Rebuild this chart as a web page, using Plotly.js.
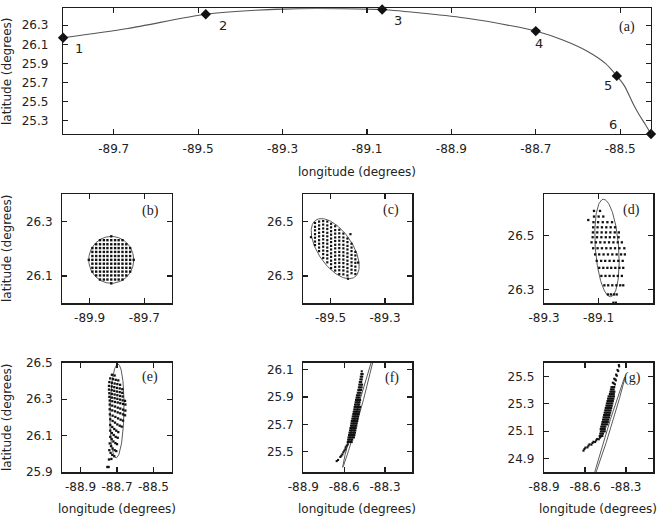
<!DOCTYPE html>
<html>
<head>
<meta charset="utf-8">
<script src="https://cdn.plot.ly/plotly-3.0.1.min.js"></script>
<style>
  html, body { margin: 0; padding: 0; background: #fff; }
  #chart { width: 665px; height: 519px; }
</style>
</head>
<body>
<div id="chart"></div>
<script>
// ---------- (a) drifter track and the six release stations ----------
const trackLon = [-89.820, -89.667, -89.482, -89.364, -89.263, -89.162, -89.064, -88.960, -88.859, -88.758,
                  -88.700, -88.636, -88.576, -88.535, -88.508, -88.490, -88.470, -88.455, -88.440, -88.427];
const trackLat = [26.168, 26.265, 26.414, 26.456, 26.473, 26.473, 26.463, 26.421, 26.369, 26.293,
                  26.238, 26.144, 26.023, 25.901, 25.770, 25.666, 25.485, 25.364, 25.260, 25.163];
const stationLon = [-89.820, -89.482, -89.064, -88.700, -88.508, -88.427];
const stationLat = [26.168, 26.414, 26.463, 26.238, 25.770, 25.163];
const stationLabel = ['1', '2', '3', '4', '5', '6'];

// ---------- confidence ellipses of panels (b)..(g): centre and half-axis vectors ----------
const ellLon   = [-89.821, -89.483, -89.0695, -88.700, -88.489, -88.428];
const ellLat   = [26.159, 26.400, 26.454, 26.236, 25.817, 25.106];
const ellMajor = [[0.0823, 0], [0.0711, -0.1044], [-0.0134, 0.1814], [0.0046, 0.257], [-0.1223, -0.4306], [0.1199, 0.3893]];
const ellMinor = [[0, 0.0858], [0.0521, 0.0351], [0.0426, 0.0032], [0.0385, -0.0007], [0.0120, -0.0034], [0.0098, -0.0030]];

// ---------- (b) initial particle grid (x = particle present) ----------
const bLon = [-89.903, -89.890, -89.876, -89.862, -89.848, -89.835, -89.821, -89.807, -89.794, -89.780, -89.766, -89.752, -89.739];
const bLat = [26.245, 26.231, 26.216, 26.202, 26.188, 26.173, 26.159, 26.145, 26.130, 26.116, 26.102, 26.087, 26.073];
const bMask = [
  '......x......',
  '...xxxxxxx...',
  '..xxxxxxxxx..',
  '.xxxxxxxxxxx.',
  '.xxxxxxxxxxx.',
  '.xxxxxxxxxxx.',
  'xxxxxxxxxxxxx',
  '.xxxxxxxxxxx.',
  '.xxxxxxxxxxx.',
  '.xxxxxxxxxxx.',
  '..xxxxxxxxx..',
  '...xxxxxxx...',
  '......x......'
];

// ---------- (c) particles, by column ----------
const cLon = [-89.557, -89.542, -89.527, -89.512, -89.498, -89.483, -89.468, -89.453, -89.438, -89.423, -89.409];
const cLat = [
  [26.494, 26.480, 26.467, 26.453, 26.440, 26.426, 26.413],
  [26.499, 26.485, 26.472, 26.458, 26.445, 26.431, 26.418, 26.404, 26.391],
  [26.501, 26.488, 26.474, 26.461, 26.447, 26.434, 26.420, 26.407, 26.393, 26.380, 26.366],
  [26.499, 26.485, 26.472, 26.458, 26.445, 26.431, 26.418, 26.404, 26.391, 26.377, 26.364, 26.350],
  [26.491, 26.478, 26.464, 26.451, 26.437, 26.424, 26.410, 26.397, 26.383, 26.370, 26.356, 26.343, 26.329],
  [26.482, 26.468, 26.455, 26.441, 26.428, 26.414, 26.401, 26.387, 26.374, 26.360, 26.347, 26.333, 26.320],
  [26.469, 26.456, 26.442, 26.429, 26.415, 26.402, 26.388, 26.375, 26.361, 26.348, 26.334, 26.321, 26.307],
  [26.455, 26.441, 26.428, 26.414, 26.401, 26.387, 26.374, 26.360, 26.347, 26.333, 26.320, 26.306],
  [26.437, 26.424, 26.410, 26.397, 26.383, 26.370, 26.356, 26.343, 26.329, 26.316, 26.302],
  [26.418, 26.404, 26.391, 26.377, 26.364, 26.350, 26.337, 26.323, 26.310],
  [26.388, 26.375, 26.361, 26.348, 26.334, 26.321, 26.307]
];
const cStrayLon = [-89.572, -89.427, -89.399, -89.436];
const cStrayLat = [26.442, 26.453, 26.349, 26.290];

// ---------- (d) particles, by row ----------
const dLat = [26.592, 26.571, 26.558, 26.550, 26.531, 26.512, 26.494, 26.475, 26.453, 26.430, 26.406, 26.380, 26.350, 26.315, 26.281, 26.250];
const dLon = [
  [-89.117, -89.095],
  [-89.117, -89.100, -89.083],
  [-89.138],
  [-89.119, -89.102, -89.085, -89.068, -89.051],
  [-89.120, -89.104, -89.088, -89.072, -89.056, -89.040],
  [-89.121, -89.105, -89.089, -89.073, -89.057, -89.041, -89.026],
  [-89.122, -89.106, -89.090, -89.074, -89.059, -89.043, -89.027],
  [-89.126, -89.110, -89.094, -89.078, -89.062, -89.046, -89.030, -89.015],
  [-89.120, -89.104, -89.088, -89.072, -89.056, -89.040, -89.024, -89.006],
  [-89.113, -89.098, -89.082, -89.066, -89.050, -89.034, -89.018, -89.004],
  [-89.107, -89.091, -89.076, -89.060, -89.044, -89.028, -89.012],
  [-89.098, -89.083, -89.068, -89.054, -89.039, -89.024, -89.010],
  [-89.090, -89.075, -89.060, -89.045, -89.030, -89.015],
  [-89.079, -89.065, -89.050, -89.035, -89.021, -89.010],
  [-89.066, -89.055, -89.044, -89.034],
  [-89.046, -89.037]
];

// ---------- (e) particles ----------
const eLon = [
  -88.728, -88.713,
  -88.737, -88.722, -88.707, -88.693,
  -88.742, -88.728, -88.713, -88.698, -88.683,
  -88.744, -88.729, -88.715, -88.700, -88.685, -88.671,
  -88.744, -88.729, -88.715, -88.700, -88.685, -88.671,
  -88.742, -88.728, -88.713, -88.698, -88.683, -88.669,
  -88.742, -88.728, -88.713, -88.698, -88.683, -88.669, -88.656,
  -88.740, -88.726, -88.711, -88.696, -88.682, -88.667, -88.654,
  -88.740, -88.726, -88.711, -88.696, -88.682, -88.667, -88.654,
  -88.740, -88.726, -88.711, -88.696, -88.682, -88.667, -88.656,
  -88.739, -88.724, -88.709, -88.694, -88.680, -88.667,
  -88.737, -88.724, -88.711, -88.698, -88.685, -88.674,
  -88.737, -88.726, -88.715, -88.704, -88.693,
  -88.737, -88.728, -88.718, -88.707, -88.696,
  -88.737, -88.729, -88.720, -88.709, -88.700,
  -88.740, -88.733, -88.724, -88.713, -88.704,
  -88.742, -88.735, -88.726, -88.715,
  -88.744, -88.731,
  -88.753, -88.746
];
const eLat = [
  26.434, 26.430,
  26.414, 26.410, 26.406, 26.403,
  26.394, 26.390, 26.386, 26.383, 26.379,
  26.373, 26.370, 26.366, 26.362, 26.359, 26.355,
  26.353, 26.350, 26.346, 26.342, 26.339, 26.335,
  26.333, 26.329, 26.326, 26.322, 26.318, 26.315,
  26.313, 26.309, 26.306, 26.302, 26.298, 26.294, 26.291,
  26.293, 26.289, 26.285, 26.282, 26.278, 26.274, 26.271,
  26.271, 26.265, 26.260, 26.254, 26.249, 26.243, 26.238,
  26.245, 26.239, 26.234, 26.228, 26.223, 26.217, 26.212,
  26.217, 26.210, 26.203, 26.195, 26.188, 26.183,
  26.190, 26.181, 26.172, 26.162, 26.155, 26.150,
  26.159, 26.148, 26.137, 26.128, 26.120,
  26.128, 26.115, 26.104, 26.094, 26.089,
  26.094, 26.082, 26.069, 26.060, 26.054,
  26.058, 26.043, 26.030, 26.021, 26.016,
  26.021, 26.006, 25.995, 25.988,
  25.970, 25.973,
  25.929, 25.929
];

// ---------- (f) particles: rows plus the trailing tail ----------
const fRowLat = [25.571, 25.588, 25.605, 25.622, 25.639, 25.656, 25.673, 25.690, 25.707, 25.724,
                 25.741, 25.758, 25.775, 25.792, 25.809, 25.827, 25.844, 25.861, 25.878, 25.895,
                 25.912, 25.931, 25.951, 25.970, 25.990, 26.009, 26.028, 26.048, 26.067, 26.087];
const fRowLon = [
  [-88.574, -88.565, -88.555, -88.545],
  [-88.571, -88.561, -88.551, -88.541],
  [-88.568, -88.558, -88.548, -88.538, -88.528],
  [-88.564, -88.554, -88.544, -88.535, -88.525],
  [-88.561, -88.551, -88.541, -88.531, -88.521],
  [-88.557, -88.547, -88.538, -88.528, -88.518],
  [-88.554, -88.544, -88.534, -88.524, -88.515],
  [-88.550, -88.541, -88.531, -88.521, -88.511],
  [-88.547, -88.537, -88.527, -88.518, -88.508],
  [-88.544, -88.534, -88.524, -88.514, -88.504],
  [-88.540, -88.530, -88.521, -88.511, -88.501],
  [-88.537, -88.527, -88.517, -88.507, -88.498],
  [-88.533, -88.523, -88.514, -88.504, -88.494],
  [-88.530, -88.520, -88.510, -88.500, -88.491],
  [-88.526, -88.517, -88.507, -88.497, -88.487],
  [-88.523, -88.513, -88.503, -88.494, -88.484],
  [-88.520, -88.510, -88.500, -88.490],
  [-88.516, -88.506, -88.497, -88.487],
  [-88.513, -88.503, -88.493, -88.483],
  [-88.509, -88.500, -88.490],
  [-88.506, -88.496, -88.486],
  [-88.500, -88.490, -88.480],
  [-88.496, -88.486, -88.476],
  [-88.492, -88.482, -88.472],
  [-88.489, -88.479, -88.469],
  [-88.485, -88.475],
  [-88.481, -88.471],
  [-88.478, -88.468],
  [-88.474, -88.465],
  [-88.471]
];
const fTailLon = [-88.655, -88.645, -88.628, -88.621, -88.613, -88.606, -88.599, -88.591, -88.589, -88.582, -88.574];
const fTailLat = [25.432, 25.440, 25.462, 25.471, 25.481, 25.496, 25.508, 25.518, 25.532, 25.544, 25.554];

// ---------- (g) particles: head, rows and tail ----------
const gRowLat = [25.422, 25.405, 25.388, 25.371, 25.354, 25.337, 25.320, 25.303, 25.286, 25.269, 25.252,
                 25.235, 25.218, 25.201, 25.184, 25.167, 25.150, 25.133, 25.116, 25.099, 25.082, 25.065];
const gRowLon = [
  [-88.406, -88.396, -88.386],
  [-88.410, -88.400, -88.390],
  [-88.414, -88.404, -88.394, -88.385],
  [-88.418, -88.408, -88.398, -88.389],
  [-88.427, -88.417, -88.407, -88.397, -88.388],
  [-88.431, -88.421, -88.412, -88.402, -88.392],
  [-88.435, -88.425, -88.416, -88.406, -88.396],
  [-88.440, -88.430, -88.420, -88.410, -88.400],
  [-88.443, -88.434, -88.424, -88.414, -88.404],
  [-88.448, -88.438, -88.428, -88.418, -88.408],
  [-88.452, -88.442, -88.432, -88.422, -88.412],
  [-88.456, -88.446, -88.436, -88.426, -88.416],
  [-88.460, -88.450, -88.440, -88.431, -88.421],
  [-88.464, -88.454, -88.444, -88.434, -88.424],
  [-88.468, -88.458, -88.448, -88.438, -88.429],
  [-88.472, -88.462, -88.453, -88.443, -88.433],
  [-88.476, -88.467, -88.457, -88.447, -88.437],
  [-88.481, -88.471, -88.461, -88.451],
  [-88.485, -88.475, -88.465, -88.455],
  [-88.484, -88.474, -88.464, -88.455],
  [-88.488, -88.478, -88.468],
  [-88.492, -88.482, -88.473]
];
const gHeadLon = [-88.352, -88.350, -88.362, -88.357, -88.372, -88.367, -88.386, -88.379, -88.374, -88.396, -88.389, -88.381];
const gHeadLat = [25.583, 25.573, 25.547, 25.539, 25.513, 25.505, 25.483, 25.478, 25.471, 25.454, 25.449, 25.442];
const gTailLon = [-88.499, -88.491, -88.484, -88.526, -88.518, -88.511, -88.553, -88.545, -88.538, -88.582, -88.575, -88.567, -88.611, -88.604, -88.597];
const gTailLat = [25.041, 25.053, 25.062, 25.021, 25.033, 25.043, 25.002, 25.014, 25.023, 24.982, 24.994, 25.004, 24.958, 24.970, 24.980];

// ---------- tick values ----------
const aLonTicks = [-89.7, -89.5, -89.3, -89.1, -88.9, -88.7, -88.5];
const aLatTicks = [25.3, 25.5, 25.7, 25.9, 26.1, 26.3];
const bLonTicks = [-89.9, -89.7], bLatTicks = [26.1, 26.3];
const cLonTicks = [-89.5, -89.3], cLatTicks = [26.3, 26.5];
const dLonTicks = [-89.3, -89.1, -88.9], dLatTicks = [26.3, 26.5];
const eLonTicks = [-88.9, -88.7, -88.5], eLatTicks = [25.9, 26.1, 26.3, 26.5];
const fLonTicks = [-88.9, -88.6, -88.3], fLatTicks = [25.5, 25.7, 25.9, 26.1];
const gLonTicks = [-88.9, -88.6, -88.3], gLatTicks = [24.9, 25.1, 25.3, 25.5];

// ================= drawing =================
const W = 665, H = 519;
const INK = '#1c1c1c';
const SANS = 'DejaVu Sans, sans-serif';
const SERIF = 'Liberation Serif, Times New Roman, serif';

function pts() { return { x: [], y: [] }; }
function dotTrace(p, xa, ya, size) {
  return { x: p.x, y: p.y, xaxis: xa, yaxis: ya, type: 'scatter', mode: 'markers',
           marker: { symbol: 'square', size: size, color: '#111', line: { width: 0 } },
           cliponaxis: false, hoverinfo: 'skip', showlegend: false };
}
function ellipseTrace(k, xa, ya) {
  const xs = [], ys = [];
  for (let i = 0; i <= 160; i++) {
    const t = 2 * Math.PI * i / 160;
    xs.push(ellLon[k] + Math.cos(t) * ellMajor[k][0] + Math.sin(t) * ellMinor[k][0]);
    ys.push(ellLat[k] + Math.cos(t) * ellMajor[k][1] + Math.sin(t) * ellMinor[k][1]);
  }
  return { x: xs, y: ys, xaxis: xa, yaxis: ya, type: 'scatter', mode: 'lines',
           line: { color: '#5a5a5a', width: 1 }, hoverinfo: 'skip', showlegend: false };
}

// particle clouds
const bP = pts();
bMask.forEach((row, j) => { for (let i = 0; i < row.length; i++) if (row[i] === 'x') { bP.x.push(bLon[i]); bP.y.push(bLat[j]); } });

const cP = pts();
cLon.forEach((lon, i) => cLat[i].forEach(lat => { cP.x.push(lon); cP.y.push(lat); }));
cP.x.push(...cStrayLon); cP.y.push(...cStrayLat);

const dP = pts();
dLat.forEach((lat, j) => dLon[j].forEach(lon => { dP.x.push(lon); dP.y.push(lat); }));

const eP = { x: eLon, y: eLat };

const fP = pts();
fRowLat.forEach((lat, j) => fRowLon[j].forEach(lon => { fP.x.push(lon); fP.y.push(lat); }));
fP.x.push(...fTailLon); fP.y.push(...fTailLat);

const gP = pts();
gRowLat.forEach((lat, j) => gRowLon[j].forEach(lon => { gP.x.push(lon); gP.y.push(lat); }));
gP.x.push(...gHeadLon, ...gTailLon); gP.y.push(...gHeadLat, ...gTailLat);

const traces = [
  { x: trackLon, y: trackLat, xaxis: 'x', yaxis: 'y', type: 'scatter', mode: 'lines',
    line: { color: '#555', width: 1.1, shape: 'spline', smoothing: 0.8 }, hoverinfo: 'skip', showlegend: false },
  { x: stationLon, y: stationLat, xaxis: 'x', yaxis: 'y', type: 'scatter', mode: 'markers',
    marker: { symbol: 'diamond', size: 8, color: '#111' }, cliponaxis: false, hoverinfo: 'skip', showlegend: false },
  ellipseTrace(0, 'x2', 'y2'), dotTrace(bP, 'x2', 'y2', 2.4),
  ellipseTrace(1, 'x3', 'y3'), dotTrace(cP, 'x3', 'y3', 2.2),
  ellipseTrace(2, 'x4', 'y4'), dotTrace(dP, 'x4', 'y4', 2.3),
  ellipseTrace(3, 'x5', 'y5'), dotTrace(eP, 'x5', 'y5', 2.3),
  ellipseTrace(4, 'x6', 'y6'), dotTrace(fP, 'x6', 'y6', 2.1),
  ellipseTrace(5, 'x7', 'y7'), dotTrace(gP, 'x7', 'y7', 2.1)
];

// axes
const frame = {
  showline: true, linecolor: INK, linewidth: 1.3, mirror: 'ticks',
  ticks: 'inside', ticklen: 5, tickwidth: 1.1, tickcolor: INK,
  showgrid: false, zeroline: false, fixedrange: true, tickmode: 'array',
  tickfont: { family: SANS, size: 12, color: '#222' }
};
const fmt = v => v.toFixed(1);
function xAx(left, right, range, ticks, anchor) {
  return Object.assign({}, frame, { domain: [left / W, right / W], range: range, anchor: anchor,
    tickvals: ticks, ticktext: ticks.map(fmt), ticklabelstandoff: 3 });
}
function yAx(top, bottom, range, ticks, anchor, standoff) {
  return Object.assign({}, frame, { domain: [1 - bottom / H, 1 - top / H], range: range, anchor: anchor,
    tickvals: ticks, ticktext: ticks.map(fmt), ticklabelstandoff: standoff });
}

const colL = [62.3, 171.7], colM = [303.3, 412.3], colR = [544, 653.3];
const row2 = [194, 303.3], row3 = [362.7, 472.3];

const layout = {
  width: W, height: H, margin: { l: 0, r: 0, t: 0, b: 0 },
  paper_bgcolor: '#fff', plot_bgcolor: '#fff', showlegend: false,
  xaxis:  xAx(63.1, 651, [-89.82, -88.427], aLonTicks, 'y'),
  yaxis:  yAx(8.3, 134, [25.163, 26.476], aLatTicks, 'x', 11),
  xaxis2: xAx(colL[0], colL[1], [-90.0, -89.6], bLonTicks, 'y2'),
  yaxis2: yAx(row2[0], row2[1], [26.0, 26.4], bLatTicks, 'x2', 6),
  xaxis3: xAx(colM[0], colM[1], [-89.6, -89.2], cLonTicks, 'y3'),
  yaxis3: yAx(row2[0], row2[1], [26.2, 26.6], cLatTicks, 'x3', 6),
  xaxis4: xAx(colR[0], colR[1], [-89.3001, -88.8999], dLonTicks, 'y4'),
  yaxis4: yAx(row2[0], row2[1], [26.248, 26.655], dLatTicks, 'x4', 6),
  xaxis5: xAx(colL[0], colL[1], [-89.0, -88.4], eLonTicks, 'y5'),
  yaxis5: yAx(row3[0], row3[1], [25.8999, 26.5001], eLatTicks, 'x5', 6),
  xaxis6: xAx(colM[0], colM[1], [-88.9001, -88.1], fLonTicks, 'y6'),
  yaxis6: yAx(row3[0], row3[1], [25.35, 26.15], fLatTicks, 'x6', 6),
  xaxis7: xAx(colR[0], colR[1], [-88.9001, -88.1], gLonTicks, 'y7'),
  yaxis7: yAx(row3[0], row3[1], [24.8, 25.6], gLatTicks, 'x7', 6),
  annotations: []
};

// text helpers (pixel placement inside the page)
function note(text, x, y, font, extra) {
  layout.annotations.push(Object.assign({ text: text, xref: 'paper', yref: 'paper', x: x / W, y: 1 - y / H,
    xanchor: 'center', yanchor: 'middle', showarrow: false, font: font }, extra || {}));
}
const titleFont = { family: SANS, size: 12, color: '#222' };
const panelFont = { family: SERIF, size: 14, color: '#222' };

// axis titles
note('latitude (degrees)', 7, 71, titleFont, { textangle: -90 });
note('latitude (degrees)', 7, 248, titleFont, { textangle: -90 });
note('latitude (degrees)', 7, 417, titleFont, { textangle: -90 });
note('longitude (degrees)', 357, 172, titleFont);
note('longitude (degrees)', 117, 509, titleFont);
note('longitude (degrees)', 357, 509, titleFont);
note('longitude (degrees)', 598, 509, titleFont);

// panel tags
note('(a)', 627, 26.5, panelFont);
note('(b)', 150, 210.5, panelFont);
note('(c)', 390.5, 210, panelFont);
note('(d)', 631.5, 210, panelFont);
note('(e)', 150, 377, panelFont);
note('(f)', 391.5, 377.5, panelFont);
note('(g)', 632, 378, panelFont);

// station numbers next to the diamonds on the track
const labelShift = [[16, -11], [17, -11], [16, -11], [3, -12], [-9, -10], [-38, 9]];
stationLabel.forEach((t, i) => {
  layout.annotations.push({ text: t, xref: 'x', yref: 'y', x: stationLon[i], y: stationLat[i],
    xshift: labelShift[i][0], yshift: labelShift[i][1], showarrow: false,
    xanchor: 'center', yanchor: 'middle', font: { family: SANS, size: 13, color: '#222' } });
});

Plotly.newPlot('chart', traces, layout, { staticPlot: true, displayModeBar: false });
</script>
</body>
</html>
